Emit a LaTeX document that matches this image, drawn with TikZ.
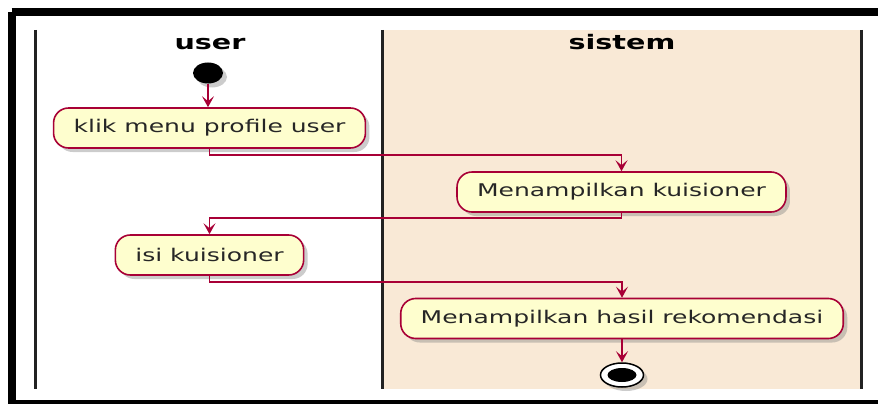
\documentclass[tikz,border=0pt]{standalone}
\usepackage{fontspec}
\setmainfont{DejaVu Sans}
\newfontfamily\umlfont[FakeStretch=1.43]{DejaVu Sans}
\usetikzlibrary{arrows.meta,shadows,shapes.geometric}

\definecolor{umlred}{HTML}{A80036}
\definecolor{umlfill}{HTML}{FEFECE}
\definecolor{lanefill}{HTML}{F9E9D6}
\definecolor{lanerule}{HTML}{222222}

\tikzset{
  umlshadow/.style={drop shadow={opacity=0.4,shadow xshift=4pt,shadow yshift=-4pt,fill=gray}},
  activity/.style={draw=umlred,fill=umlfill,line width=1.6pt,rounded corners=15pt,
    minimum height=40pt,inner xsep=20pt,inner ysep=0pt,
    font=\umlfont\fontsize{17.5}{20}\selectfont,text=black!85,umlshadow},
  lanetitle/.style={anchor=base,inner sep=0pt,font=\umlfont\bfseries\fontsize{20}{24}\selectfont},
  flow/.style={draw=umlred,line width=1.6pt,-{Stealth[length=11pt,width=12pt,inset=5pt]}},
  lanerule/.style={draw=lanerule,line width=3pt},
}

\begin{document}
\begin{tikzpicture}[x=1pt,y=-1pt]
  \useasboundingbox (0,0) rectangle (878,404);

  % outer frame
  \draw[line width=8pt] (11.5,12) -- (890,12);
  \draw[line width=8pt] (11.5,12) -- (11.5,404) -- (890,404);

  % swimlanes
  \fill[lanefill] (382,30) rectangle (861,389);
  \draw[lanerule] (35,30) -- (35,389);
  \draw[lanerule] (382,30) -- (382,389);
  \draw[lanerule] (861,30) -- (861,389);
  \node[lanetitle] (tuser) at (210,49) {user};
  \node[lanetitle] (tsistem) at (622,49) {sistem};

  % start and end
  \node[ellipse,fill=black,minimum width=30pt,minimum height=21pt,inner sep=0pt,umlshadow] (start) at (208,73) {};
  \node[ellipse,draw=black,line width=1.5pt,fill=white,minimum width=43pt,minimum height=24pt,inner sep=0pt,umlshadow] (stop) at (622,375) {};
  \node[ellipse,fill=black,minimum width=29pt,minimum height=14pt,inner sep=0pt] (stopdot) at (stop.center) {};

  % activities
  \node[activity] (klik) at (209.5,128) {klik menu profile user};
  \node[activity] (tampil) at (621.5,192) {Menampilkan kuisioner};
  \node[activity] (isi) at (209.5,255) {isi kuisioner};
  \node[activity] (hasil) at (622,318.5) {Menampilkan hasil rekomendasi};

  % control flow
  \draw[flow] (start) -- (start |- klik.north);
  \draw[flow] (klik.south) -- ++(0,6) -| (tampil.north);
  \draw[flow] (tampil.south) -- ++(0,5) -| (isi.north);
  \draw[flow] (isi.south) -- ++(0,6) -| (hasil.north);
  \draw[flow] (hasil.south) -- (stop.north);
\end{tikzpicture}
\end{document}
